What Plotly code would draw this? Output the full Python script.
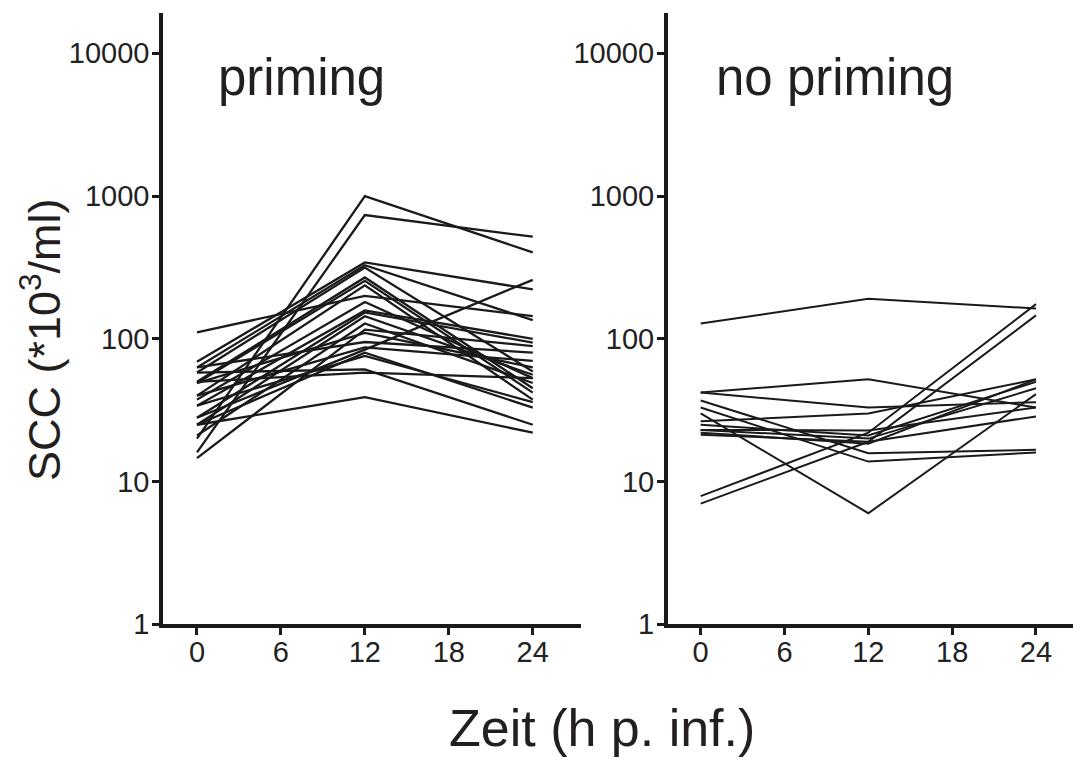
import plotly.graph_objects as go

hours = [0, 12, 24]

# priming group: value at 0 h, 12 h, 24 h per animal
prim_0 = [20, 16, 111, 69, 63, 58, 50, 49, 40, 37.5, 34, 28, 25, 21, 14.6, 49, 63, 40, 28, 25, 34, 58, 50, 25]
prim_12 = [1000, 736, 200, 343, 328, 316, 269, 255, 237, 181, 158, 153, 144, 128, 116, 110, 95, 87, 84, 80, 76, 61, 58, 39]
prim_24 = [403, 519, 144, 222, 135, 59, 45, 42, 37.5, 53, 100, 94, 56, 49, 89, 63, 80, 70, 259, 33, 36, 25, 53, 22]

# no priming group
nop_0 = [128, 7.9, 7.0, 42, 42, 30, 26.4, 37, 33, 25, 23, 22, 21.3, 23]
nop_12 = [191, 22, 19, 52, 33, 6.0, 30, 15.8, 13.8, 21, 20, 18.4, 19, 22.8]
nop_24 = [163, 175, 146, 33, 36, 41, 52, 16.7, 16, 50, 45, 52, 28.6, 33]

y_ticks = [1, 10, 100, 1000, 10000]
y_ticktext = ["1", "10", "100", "1000", "10000"]
x_ticks = [0, 6, 12, 18, 24]

LC = "#1a1a1a"
FONT = "Liberation Sans, Arial, sans-serif"
fig = go.Figure()

for a, b, c in zip(prim_0, prim_12, prim_24):
    fig.add_trace(go.Scatter(x=hours, y=[a, b, c], mode="lines",
                             line=dict(color=LC, width=2.3), xaxis="x", yaxis="y",
                             showlegend=False, hoverinfo="skip"))
for a, b, c in zip(nop_0, nop_12, nop_24):
    fig.add_trace(go.Scatter(x=hours, y=[a, b, c], mode="lines",
                             line=dict(color=LC, width=2), xaxis="x2", yaxis="y2",
                             showlegend=False, hoverinfo="skip"))

W, H = 1073, 760
top_px, bot_px = 12.5, 624.3
ydom = [1 - bot_px / H, 1 - top_px / H]

axis_common = dict(showline=True, linewidth=3.5, linecolor=LC, ticks="outside",
                   ticklen=7, tickwidth=3, tickcolor=LC, showgrid=False, zeroline=False,
                   automargin=False,
                   tickfont=dict(family=FONT, size=29, color="#222"))

fig.update_layout(
    width=W, height=H,
    margin=dict(l=0, r=0, t=0, b=0, pad=0),
    paper_bgcolor="white", plot_bgcolor="white",
    xaxis=dict(domain=[163 / W, 581 / W], range=[-2.43, 27.45], tickvals=x_ticks,
               anchor="y", ticklabelstandoff=-8, **axis_common),
    yaxis=dict(domain=ydom, type="log", range=[0, 4.286], tickvals=y_ticks,
               ticktext=y_ticktext, anchor="x", ticklabelstandoff=-3, **axis_common),
    xaxis2=dict(domain=[667.7 / W, 1.0], range=[-2.36, 26.65], tickvals=x_ticks,
                anchor="y2", ticklabelstandoff=-8, **axis_common),
    yaxis2=dict(domain=ydom, type="log", range=[0, 4.286], tickvals=y_ticks,
                ticktext=y_ticktext, anchor="x2", ticklabelstandoff=-3, **axis_common),
    annotations=[
        dict(text="priming", x=216 / W, y=1 - 77 / H, xref="paper", yref="paper",
             xanchor="left", yanchor="middle", showarrow=False,
             font=dict(family=FONT, size=51, color="#231f20")),
        dict(text="no priming", x=714 / W, y=1 - 77 / H, xref="paper", yref="paper",
             xanchor="left", yanchor="middle", showarrow=False,
             font=dict(family=FONT, size=51, color="#231f20")),
        dict(text="SCC (*10<sup>3</sup>/ml)", x=41 / W, y=1 - 340 / H, xref="paper", yref="paper",
             xanchor="center", yanchor="middle", showarrow=False, textangle=-90,
             font=dict(family=FONT, size=45, color="#231f20")),
        dict(text="Zeit (h p. inf.)", x=602 / W, y=1 - 728 / H, xref="paper", yref="paper",
             xanchor="center", yanchor="middle", showarrow=False,
             font=dict(family=FONT, size=52, color="#231f20")),
    ],
)

fig.write_html("out.html")
